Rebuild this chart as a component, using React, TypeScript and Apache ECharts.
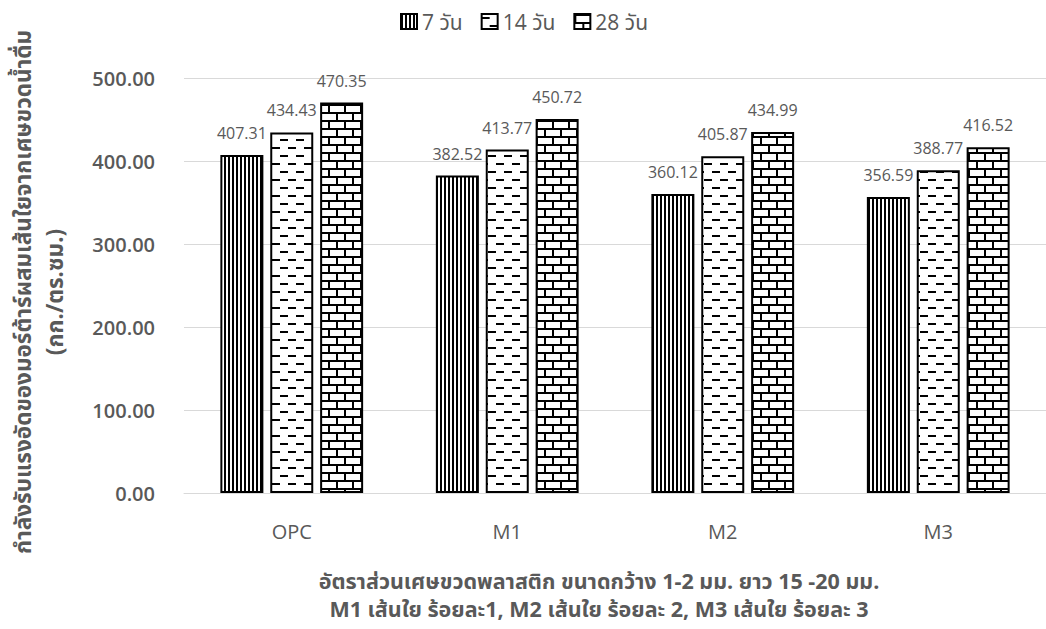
import React, { useEffect, useRef } from "react";
import * as echarts from "echarts";

const categories = ["OPC", "M1", "M2", "M3"];
const seriesNames = ["7 วัน", "14 วัน", "28 วัน"];
const day7 = [407.31, 382.52, 360.12, 356.59];
const day14 = [434.43, 413.77, 405.87, 388.77];
const day28 = [470.35, 450.72, 434.99, 416.52];
const yTicks = { min: 0, max: 500, interval: 100 };

const yTitle = "กำลังรับแรงอัดของมอร์ต้าร์ผสมเส้นใยจากเศษขวดน้ำดื่ม\n(กก./ตร.ซม.)";
const xTitle =
  "อัตราส่วนเศษขวดพลาสติก ขนาดกว้าง 1-2 มม. ยาว 15 -20 มม.\nM1 เส้นใย ร้อยละ1, M2 เส้นใย ร้อยละ 2, M3 เส้นใย ร้อยละ 3";

const FONT = "'Open Sans', 'Noto Sans Thai', sans-serif";
const GRAY = "#595959";

// Build a small tile and return it as a repeating fill
function makeTile(w: number, h: number, draw: (c: CanvasRenderingContext2D) => void) {
  const cv = document.createElement("canvas");
  cv.width = w;
  cv.height = h;
  const ctx = cv.getContext("2d")!;
  ctx.fillStyle = "#ffffff";
  ctx.fillRect(0, 0, w, h);
  ctx.fillStyle = "#000000";
  draw(ctx);
  return { image: cv.toDataURL(), imageWidth: w, imageHeight: h, repeat: "repeat" };
}

export default function App() {
  const ref = useRef<HTMLDivElement>(null);

  useEffect(() => {
    document.body.style.margin = "0";
    if (!ref.current) return;
    const chart = echarts.init(ref.current, undefined, { renderer: "svg" });

    // vertical stripes
    const stripes = makeTile(4, 4, (c) => {
      c.fillRect(0, 0, 2, 4);
    });
    // staggered horizontal dashes
    const dashes = makeTile(16, 16, (c) => {
      c.fillRect(0, 3, 8, 2);
      c.fillRect(8, 11, 8, 2);
    });
    // brick wall
    const bricks = makeTile(16, 16, (c) => {
      c.fillRect(0, 0, 16, 2);
      c.fillRect(0, 8, 16, 2);
      c.fillRect(0, 0, 2, 8);
      c.fillRect(8, 8, 2, 8);
    });

    const fills = [stripes, dashes, bricks];
    const values = [day7, day14, day28];

    const labelStyle = {
      show: true,
      position: "top",
      distance: 14,
      fontSize: 16,
      color: GRAY,
      fontFamily: FONT,
      formatter: (p: any) => Number(p.value).toFixed(2),
    };

    chart.setOption({
      animation: false,
      textStyle: { fontFamily: FONT },
      legend: {
        top: 6,
        left: 395,
        itemWidth: 16,
        itemHeight: 15,
        itemGap: 18,
        icon: "rect",
        textStyle: { fontSize: 21, color: GRAY, fontFamily: FONT },
        data: seriesNames,
      },
      grid: { left: 184, right: 0, top: 78, bottom: 136 },
      xAxis: {
        type: "category",
        data: categories,
        axisLine: { lineStyle: { color: "#d9d9d9", width: 1 } },
        axisTick: { show: false },
        axisLabel: { fontSize: 20, color: GRAY, margin: 28, fontFamily: FONT },
      },
      yAxis: {
        type: "value",
        min: yTicks.min,
        max: yTicks.max,
        interval: yTicks.interval,
        axisLine: { show: false },
        axisTick: { show: false },
        splitLine: { lineStyle: { color: "#d9d9d9", width: 1 } },
        axisLabel: {
          fontSize: 20,
          fontWeight: 600,
          color: GRAY,
          margin: 29,
          fontFamily: FONT,
          formatter: (v: number) => v.toFixed(2),
        },
      },
      graphic: [
        {
          type: "text",
          x: 38,
          y: 292,
          rotation: Math.PI / 2,
          style: {
            text: yTitle,
            fontSize: 22.5,
            fontWeight: "bold",
            fill: GRAY,
            fontFamily: FONT,
            align: "center",
            verticalAlign: "middle",
            lineHeight: 32,
          },
        },
        {
          type: "text",
          x: 599,
          y: 594,
          style: {
            text: xTitle,
            fontSize: 21.5,
            fontWeight: "bold",
            fill: GRAY,
            fontFamily: FONT,
            align: "center",
            verticalAlign: "middle",
            lineHeight: 28,
          },
        },
      ],
      series: seriesNames.map((name, i) => ({
        name,
        type: "bar",
        data: values[i],
        barWidth: 43,
        barGap: "16%",
        itemStyle: {
          color: fills[i],
          borderColor: "#000000",
          borderWidth: 2,
        },
        label: labelStyle,
      })),
    });

    return () => chart.dispose();
  }, []);

  return <div ref={ref} style={{ width: 1046, height: 629 }} />;
}
